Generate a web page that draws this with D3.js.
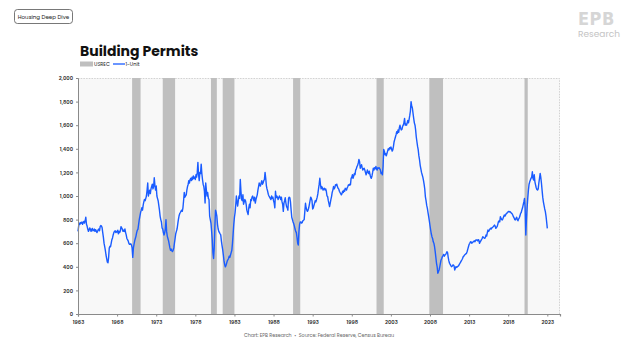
<!DOCTYPE html>
<html>
<head>
<meta charset="utf-8">
<script src="https://cdn.jsdelivr.net/npm/d3@7"></script>
<style>
  html, body { margin: 0; padding: 0; background: #ffffff; }
  svg { display: block; }
</style>
</head>
<body>
<svg id="chart" width="640" height="358"></svg>
<script>
// ---------------- DATA ----------------
const seriesName = "1-Unit";
const recessionName = "USREC";
const firstMonth = "1963-01";
// Monthly 1-unit building permits (thousands, SAAR), Jan 1963 .. Jan 2023
const permits = [
  700, 745, 770, 760, 775, 770, 780, 760, 775, 785, 770, 790,   // 1963
  820, 760, 745, 720, 700, 710, 730, 720, 700, 715, 725, 705,   // 1964
  710, 720, 700, 715, 705, 690, 700, 715, 720, 705, 740, 750,   // 1965
  745, 730, 690, 650, 600, 570, 540, 500, 470, 440, 435, 480,   // 1966
  560, 575, 570, 600, 630, 645, 670, 690, 700, 705, 690, 700,   // 1967
  695, 710, 680, 700, 690, 705, 740, 730, 720, 700, 710, 700,   // 1968
  720, 690, 670, 640, 630, 620, 600, 590, 590, 595, 585, 560,   // 1969
  480, 560, 590, 620, 640, 660, 690, 710, 720, 760, 800, 830,   // 1970
  860, 880, 900, 880, 920, 950, 970, 960, 980, 1000, 1050, 1110, // 1971
  1000, 1030, 1050, 1020, 1060, 1080, 1100, 1060, 1080, 1155, 1090, 1050, // 1972
  1085, 1000, 980, 960, 920, 880, 830, 800, 780, 730, 720, 690, // 1973
  670, 690, 720, 800, 700, 660, 640, 620, 590, 560, 540, 550,   // 1974
  535, 530, 540, 560, 600, 640, 680, 700, 720, 760, 800, 830,   // 1975
  850, 860, 870, 880, 870, 900, 960, 1030, 990, 1000, 1010, 1050, // 1976
  1080, 1100, 1130, 1110, 1140, 1150, 1130, 1160, 1140, 1170, 1150, 1160, // 1977
  1140, 1180, 1160, 1200, 1285, 1180, 1130, 1200, 1190, 1270, 1190, 1140, // 1978
  1100, 1080, 1040, 940, 1110, 1050, 1000, 1030, 980, 970, 830, 800, // 1979
  770, 700, 630, 520, 470, 560, 740, 880, 860, 830, 760, 720,   // 1980
  700, 690, 680, 670, 620, 580, 545, 500, 450, 420, 400, 410,   // 1981
  430, 450, 460, 470, 490, 480, 500, 520, 540, 600, 680, 760,   // 1982
  820, 860, 920, 1000, 950, 915, 960, 1000, 980, 1140, 1040, 970, // 1983
  960, 1010, 930, 950, 970, 960, 930, 880, 860, 843, 900, 930,  // 1984
  900, 970, 960, 990, 1000, 980, 960, 990, 940, 970, 990, 1010, // 1985
  1050, 1080, 1110, 1090, 1085, 1110, 1130, 1100, 1110, 1130, 1140, 1200, // 1986
  1150, 1085, 1060, 1040, 1015, 1000, 990, 980, 970, 1000, 980, 990, // 1987
  960, 940, 900, 1040, 985, 1000, 990, 970, 985, 1000, 990, 970, // 1988
  990, 950, 930, 870, 940, 960, 985, 940, 910, 900, 880, 980,   // 1989
  990, 985, 950, 880, 820, 800, 780, 765, 745, 720, 700, 690,   // 1990
  650, 600, 585, 700, 760, 780, 780, 770, 775, 790, 795, 800,   // 1991
  870, 938, 900, 880, 870, 880, 900, 930, 960, 990, 980, 960,   // 1992
  890, 900, 920, 940, 960, 950, 970, 990, 1020, 1060, 1100, 1150, // 1993
  1095, 1060, 1080, 1070, 1050, 1060, 1065, 1050, 1060, 1040, 1000, 995, // 1994
  960, 935, 910, 940, 970, 995, 1030, 1050, 1080, 1060, 1070, 1095, // 1995
  1090, 1100, 1080, 1065, 1060, 1040, 1030, 1020, 1010, 1020, 1040, 1030, // 1996
  1050, 1040, 1065, 1060, 1050, 1070, 1080, 1095, 1090, 1100, 1095, 1150, // 1997
  1160, 1180, 1150, 1170, 1190, 1180, 1220, 1230, 1250, 1260, 1280, 1310, // 1998
  1290, 1235, 1250, 1265, 1240, 1220, 1230, 1235, 1220, 1200, 1180, 1200, // 1999
  1220, 1200, 1190, 1210, 1180, 1160, 1150, 1170, 1200, 1235, 1220, 1240, // 2000
  1230, 1250, 1230, 1220, 1240, 1235, 1240, 1230, 1220, 1190, 1200, 1180, // 2001
  1250, 1395, 1380, 1350, 1360, 1340, 1360, 1380, 1400, 1390, 1410, 1400, // 2002
  1415, 1400, 1380, 1390, 1420, 1460, 1480, 1500, 1520, 1545, 1530, 1560, // 2003
  1540, 1580, 1600, 1575, 1560, 1565, 1590, 1600, 1620, 1658, 1600, 1610, // 2004
  1600, 1620, 1640, 1620, 1650, 1683, 1720, 1800, 1760, 1745, 1700, 1658, // 2005
  1620, 1600, 1560, 1500, 1460, 1420, 1390, 1340, 1305, 1260, 1230, 1200, // 2006
  1180, 1160, 1135, 1100, 1060, 993, 960, 920, 895, 860, 825, 790, // 2007
  750, 712, 680, 655, 640, 612, 600, 570, 528, 480, 430, 400,   // 2008
  345, 360, 373, 400, 430, 458, 470, 486, 495, 505, 490, 500,   // 2009
  505, 515, 528, 520, 480, 450, 430, 420, 410, 401, 405, 415,   // 2010
  415, 405, 373, 390, 401, 395, 400, 405, 410, 420, 430, 440,   // 2011
  450, 460, 470, 486, 490, 500, 505, 510, 514, 530, 550, 570,   // 2012
  590, 599, 610, 612, 600, 605, 610, 615, 620, 612, 625, 627,   // 2013
  627, 620, 630, 627, 599, 610, 620, 630, 640, 655, 650, 645,   // 2014
  641, 650, 669, 660, 690, 712, 700, 710, 720, 726, 720, 730,   // 2015
  735, 740, 745, 754, 745, 726, 735, 740, 760, 782, 790, 780,   // 2016
  825, 810, 800, 797, 810, 825, 839, 830, 840, 850, 855, 860,   // 2017
  867, 870, 865, 867, 860, 855, 850, 839, 825, 815, 800, 797,   // 2018
  811, 820, 800, 790, 805, 815, 830, 853, 860, 882, 900, 924,   // 2019
  950, 980, 900, 669, 800, 900, 980, 1050, 1100, 1120, 1135, 1150, // 2020
  1160, 1205, 1150, 1135, 1180, 1120, 1095, 1070, 1055, 1050, 1060, 1110, // 2021
  1150, 1192, 1160, 1110, 1050, 990, 951, 920, 890, 867, 830, 780, // 2022
  726                                                            // 2023
];
// Recession shading periods (as drawn)
const recStart = ["1969-12", "1973-11", "1980-01", "1981-07", "1990-07", "2001-03", "2007-12", "2020-02"];
const recEnd   = ["1971-01", "1975-06", "1980-10", "1983-01", "1991-06", "2002-02", "2009-09", "2020-07"];
// Axis ticks
const yTicks = [0, 200, 400, 600, 800, 1000, 1200, 1400, 1600, 1800, 2000];
const xTickYears = [1963, 1968, 1973, 1978, 1983, 1988, 1993, 1998, 2003, 2008, 2013, 2018, 2023];
const titleText = "Building Permits";
const badgeText = "Housing Deep Dive";
const footerText = "Chart: EPB Research  \u2022  Source: Federal Reserve, Census Bureau";

// ---------------- DRAW ----------------
const svg = d3.select("#chart");
const W = 640, H = 358;
const m = { left: 78, right: 80, top: 78, bottom: 44 };
const pw = W - m.left - m.right, ph = H - m.top - m.bottom;

const parseM = d3.timeParse("%Y-%m");
const start = parseM(firstMonth);
const data = permits.map((v, i) => ({ date: d3.timeMonth.offset(start, i), value: v }));

const x = d3.scaleTime()
  .domain([new Date(1963, 0, 1), new Date(2024, 7, 15)])
  .range([m.left, m.left + pw]);
const y = d3.scaleLinear().domain([0, 2000]).range([m.top + ph, m.top]);

const FONT = "Poppins, Inter, 'Noto Sans', sans-serif";

// Badge
svg.append("rect").attr("x", 14.5).attr("y", 9.5).attr("width", 58).attr("height", 14)
  .attr("rx", 3).attr("fill", "#fff").attr("stroke", "#555").attr("stroke-width", 0.8);
svg.append("text").attr("x", 43.5).attr("y", 18.6).attr("text-anchor", "middle")
  .attr("font-family", FONT).attr("font-size", 5.5).attr("fill", "#222").text(badgeText);

// Logo
svg.append("text").attr("x", 578).attr("y", 25).attr("font-family", "'DejaVu Sans Condensed', 'DejaVu Sans', sans-serif")
  .attr("font-weight", 700).attr("font-size", 18).attr("fill", "#d6d6d6").attr("letter-spacing", 0.5).text("EPB");
svg.append("text").attr("x", 578).attr("y", 37).attr("font-family", FONT)
  .attr("font-size", 9).attr("fill", "#c4c4c4").text("Research");

// Title
svg.append("text").attr("x", 80).attr("y", 56).attr("font-family", FONT)
  .attr("font-weight", 700).attr("font-size", 14).attr("fill", "#111").text(titleText);

// Legend
const lg = svg.append("g").attr("transform", "translate(80,64)");
lg.append("rect").attr("x", 0).attr("y", -2.5).attr("width", 13).attr("height", 5).attr("fill", "#bfbfbf");
lg.append("text").attr("x", 14).attr("y", 2).attr("font-family", FONT).attr("font-size", 5).attr("fill", "#222").text(recessionName);
lg.append("line").attr("x1", 33).attr("x2", 45).attr("y1", 0).attr("y2", 0).attr("stroke", "#1a5cff").attr("stroke-width", 1.3);
lg.append("text").attr("x", 45.5).attr("y", 2).attr("font-family", FONT).attr("font-size", 5).attr("fill", "#222").text(seriesName);

// Plot background
svg.append("rect").attr("x", m.left).attr("y", m.top).attr("width", pw).attr("height", ph).attr("fill", "#f8f8f8");
// dotted top/right border
svg.append("path")
  .attr("d", `M${m.left},${m.top + 0.5}H${m.left + pw - 0.5}V${m.top + ph}`)
  .attr("fill", "none").attr("stroke", "#c8c8c8").attr("stroke-width", 0.8).attr("stroke-dasharray", "1.5,1.2");

// Recessions
svg.append("g").selectAll("rect").data(recStart.map((s, i) => [parseM(s), parseM(recEnd[i])]))
  .join("rect")
  .attr("x", d => x(d[0])).attr("width", d => x(d[1]) - x(d[0]))
  .attr("y", m.top).attr("height", ph).attr("fill", "#bfbfbf");

// Line
const line = d3.line().x(d => x(d.date)).y(d => y(d.value));
svg.append("path").datum(data).attr("d", line)
  .attr("fill", "none").attr("stroke", "#1a5cff").attr("stroke-width", 1.4).attr("stroke-linejoin", "round");

// Y axis
const yAxis = d3.axisLeft(y).tickValues(yTicks).tickFormat(d3.format(",")).tickSize(2).tickPadding(3);
const gy = svg.append("g").attr("transform", `translate(${m.left},0)`).call(yAxis);
gy.select(".domain").attr("stroke", "#8a8a8a").attr("stroke-width", 1);
gy.selectAll(".tick line").attr("stroke", "#8a8a8a");
gy.selectAll("text").attr("font-family", FONT).attr("font-size", 5.2).attr("font-weight", 600).attr("fill", "#333");

// X axis
const xAxis = d3.axisBottom(x).tickValues(xTickYears.map(yv => new Date(yv, 0, 1)))
  .tickFormat(d3.timeFormat("%Y")).tickSize(2.5).tickPadding(4);
const gx = svg.append("g").attr("transform", `translate(0,${m.top + ph})`).call(xAxis);
gx.select(".domain").attr("stroke", "#8a8a8a").attr("stroke-width", 1.2);
gx.selectAll(".tick line").attr("stroke", "#8a8a8a");
gx.selectAll("text").attr("font-family", FONT).attr("font-size", 5.2).attr("font-weight", 600).attr("fill", "#333");

// Footer
svg.append("text").attr("x", 319).attr("y", 337).attr("text-anchor", "middle")
  .attr("font-family", FONT).attr("font-size", 4.8).attr("fill", "#666").attr("xml:space", "preserve").text(footerText);
</script>
</body>
</html>
